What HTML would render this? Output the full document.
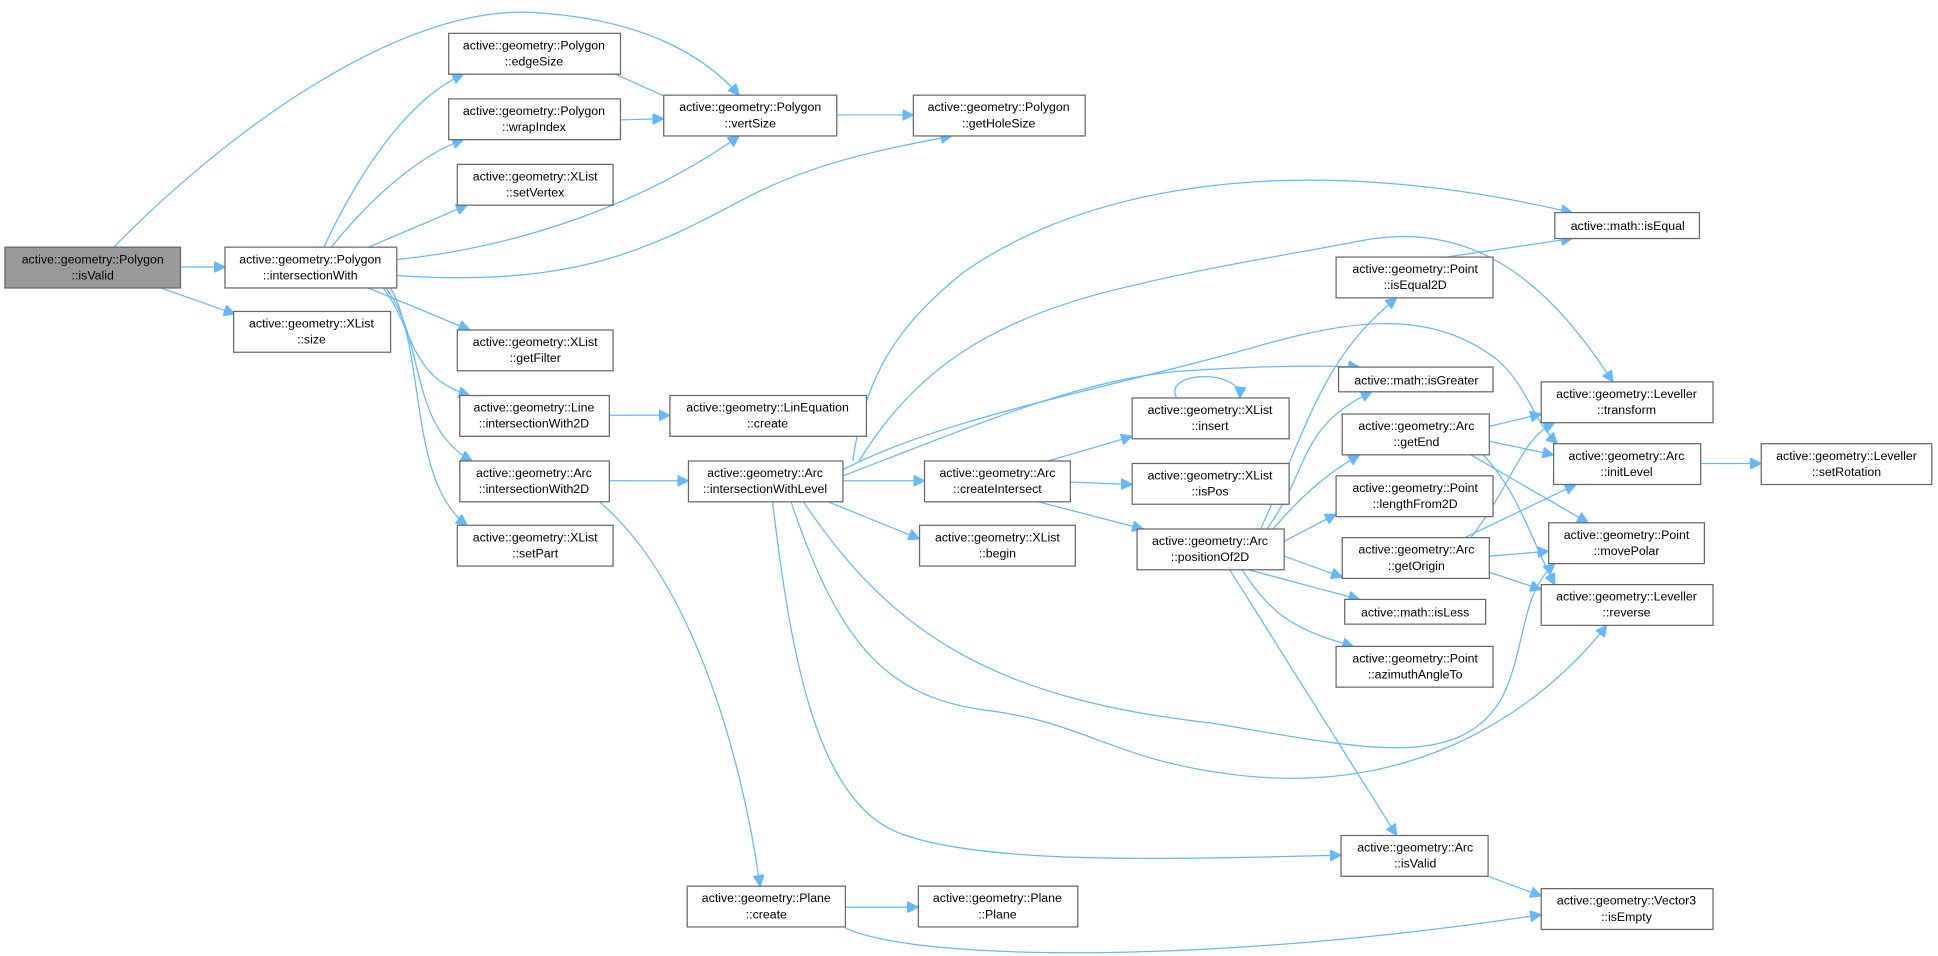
<!DOCTYPE html>
<html><head><meta charset="utf-8"><style>
html,body{margin:0;padding:0;background:#fff;}
svg{display:block;}
text{font-family:"Liberation Sans",Arial,sans-serif;font-size:10px;fill:#000;text-anchor:middle;}
.e{fill:none;stroke:#63b8ff;stroke-width:1;}
.n{fill:#fff;stroke:#666;stroke-width:1;}
</style></head><body>
<svg width="1938" height="956" viewBox="0 0 1568 773.5" xmlns="http://www.w3.org/2000/svg">
<defs><marker id="a" viewBox="0 0 10 10" refX="10" refY="5" markerWidth="9" markerHeight="9" markerUnits="userSpaceOnUse" orient="auto"><path d="M0,0 L10,5 L0,10 z" fill="#63b8ff" stroke="#63b8ff"/></marker></defs>
<g marker-end="url(#a)">
<path class="e" d="M92,200 C180,110 320,5 430,10 C520,15 570,45 598,77"/>
<path class="e" d="M146,216 L182,216"/>
<path class="e" d="M130,233 L190,254"/>
<path class="e" d="M262,200 C290,140 330,80 375,60"/>
<path class="e" d="M268,200 C300,160 340,125 375,113"/>
<path class="e" d="M298,200 L378,166"/>
<path class="e" d="M321,210 C420,200 520,165 598,110"/>
<path class="e" d="M321,223 C460,232 520,205 600,162 C660,130 720,120 770,110"/>
<path class="e" d="M298,233 L380,267"/>
<path class="e" d="M310,233 C335,265 330,305 380,320"/>
<path class="e" d="M312,233 C345,275 330,345 382,373"/>
<path class="e" d="M316,233 C345,285 330,390 378,425"/>
<path class="e" d="M498,60 L558,87"/>
<path class="e" d="M502,97 L537,96"/>
<path class="e" d="M677,93 L739,93"/>
<path class="e" d="M493,336 L542,336"/>
<path class="e" d="M493,389 L557,389"/>
<path class="e" d="M485,406 C560,470 600,610 615,717"/>
<path class="e" d="M690,373 C700,300 730,260 780,220 C880,150 1050,120 1272,172"/>
<path class="e" d="M695,373 C740,300 800,260 900,235 C980,215 1050,205 1100,195 C1200,175 1260,240 1305,309"/>
<path class="e" d="M682,380 C760,340 870,320 1000,285 C1080,262 1150,245 1210,290 C1235,310 1240,340 1260,359"/>
<path class="e" d="M682,385 C800,340 880,305 960,300 C1040,295 1080,296 1100,297"/>
<path class="e" d="M682,389 L748,389"/>
<path class="e" d="M670,406 L744,436"/>
<path class="e" d="M650,406 C720,510 800,565 980,585 C1100,605 1180,625 1215,565 C1235,525 1230,480 1258,456"/>
<path class="e" d="M640,406 C680,525 720,565 800,575 C880,585 900,615 1000,627 C1150,645 1250,570 1300,506"/>
<path class="e" d="M625,406 C640,530 660,650 730,675 C800,700 950,695 1085,692"/>
<path class="e" d="M848,373 L916,353"/>
<path class="e" d="M866,390 L916,392"/>
<path class="e" d="M840,406 L925,428"/>
<path class="e" d="M952,322 C940,300 1005,298 1003,322"/>
<path class="e" d="M1020,428 C1060,340 1070,290 1130,241"/>
<path class="e" d="M1025,428 C1060,380 1050,345 1110,317"/>
<path class="e" d="M1030,428 C1050,405 1070,385 1100,368"/>
<path class="e" d="M1039,438 L1081,416"/>
<path class="e" d="M1039,450 L1086,467"/>
<path class="e" d="M1010,461 L1100,485"/>
<path class="e" d="M1005,461 C1030,500 1050,510 1095,523"/>
<path class="e" d="M995,461 L1130,676"/>
<path class="e" d="M1170,208 L1272,193"/>
<path class="e" d="M1205,345 L1247,335"/>
<path class="e" d="M1205,357 L1257,368"/>
<path class="e" d="M1190,368 L1285,423"/>
<path class="e" d="M1200,368 C1230,400 1240,440 1258,473"/>
<path class="e" d="M1185,435 L1275,392"/>
<path class="e" d="M1190,435 C1225,390 1230,355 1258,342"/>
<path class="e" d="M1205,450 L1253,446"/>
<path class="e" d="M1205,463 L1247,477"/>
<path class="e" d="M1376,375 L1425,375"/>
<path class="e" d="M1204,709 L1247,725"/>
<path class="e" d="M684,734 L743,734"/>
<path class="e" d="M684,751 C750,780 1000,778 1247,740"/>
</g>
<rect x="4" y="200" width="142" height="33" fill="#999" stroke="#666"/>
<text x="75" y="213">active::geometry::Polygon</text><text x="75" y="226">::isValid</text>
<rect class="n" x="182" y="200" width="139" height="33"/><text x="251" y="213">active::geometry::Polygon</text><text x="251" y="226">::intersectionWith</text>
<rect class="n" x="189" y="252" width="127" height="33"/><text x="252" y="265">active::geometry::XList</text><text x="252" y="278">::size</text>
<rect class="n" x="363" y="27" width="139" height="33"/><text x="432" y="40">active::geometry::Polygon</text><text x="432" y="53">::edgeSize</text>
<rect class="n" x="363" y="80" width="139" height="33"/><text x="432" y="93">active::geometry::Polygon</text><text x="432" y="106">::wrapIndex</text>
<rect class="n" x="370" y="133" width="126" height="33"/><text x="433" y="146">active::geometry::XList</text><text x="433" y="159">::setVertex</text>
<rect class="n" x="537" y="77" width="140" height="33"/><text x="607" y="90">active::geometry::Polygon</text><text x="607" y="103">::vertSize</text>
<rect class="n" x="739" y="77" width="139" height="33"/><text x="808" y="90">active::geometry::Polygon</text><text x="808" y="103">::getHoleSize</text>
<rect class="n" x="370" y="267" width="126" height="33"/><text x="433" y="280">active::geometry::XList</text><text x="433" y="293">::getFilter</text>
<rect class="n" x="372" y="320" width="121" height="33"/><text x="432" y="333">active::geometry::Line</text><text x="432" y="346">::intersectionWith2D</text>
<rect class="n" x="542" y="320" width="159" height="33"/><text x="621" y="333">active::geometry::LinEquation</text><text x="621" y="346">::create</text>
<rect class="n" x="372" y="373" width="121" height="33"/><text x="432" y="386">active::geometry::Arc</text><text x="432" y="399">::intersectionWith2D</text>
<rect class="n" x="370" y="425" width="126" height="33"/><text x="433" y="438">active::geometry::XList</text><text x="433" y="451">::setPart</text>
<rect class="n" x="557" y="373" width="125" height="33"/><text x="619" y="386">active::geometry::Arc</text><text x="619" y="399">::intersectionWithLevel</text>
<rect class="n" x="748" y="373" width="118" height="33"/><text x="807" y="386">active::geometry::Arc</text><text x="807" y="399">::createIntersect</text>
<rect class="n" x="744" y="425" width="126" height="33"/><text x="807" y="438">active::geometry::XList</text><text x="807" y="451">::begin</text>
<rect class="n" x="916" y="322" width="127" height="33"/><text x="979" y="335">active::geometry::XList</text><text x="979" y="348">::insert</text>
<rect class="n" x="916" y="375" width="127" height="33"/><text x="979" y="388">active::geometry::XList</text><text x="979" y="401">::isPos</text>
<rect class="n" x="920" y="428" width="119" height="33"/><text x="979" y="441">active::geometry::Arc</text><text x="979" y="454">::positionOf2D</text>
<rect class="n" x="1081" y="208" width="127" height="33"/><text x="1145" y="221">active::geometry::Point</text><text x="1145" y="234">::isEqual2D</text>
<rect class="n" x="1083" y="297" width="125" height="20"/><text x="1146" y="311">active::math::isGreater</text>
<rect class="n" x="1086" y="335" width="119" height="33"/><text x="1146" y="348">active::geometry::Arc</text><text x="1146" y="361">::getEnd</text>
<rect class="n" x="1081" y="385" width="127" height="33"/><text x="1145" y="398">active::geometry::Point</text><text x="1145" y="411">::lengthFrom2D</text>
<rect class="n" x="1086" y="435" width="119" height="33"/><text x="1146" y="448">active::geometry::Arc</text><text x="1146" y="461">::getOrigin</text>
<rect class="n" x="1088" y="485" width="114" height="20"/><text x="1145" y="499">active::math::isLess</text>
<rect class="n" x="1081" y="523" width="127" height="33"/><text x="1145" y="536">active::geometry::Point</text><text x="1145" y="549">::azimuthAngleTo</text>
<rect class="n" x="1085" y="676" width="119" height="33"/><text x="1145" y="689">active::geometry::Arc</text><text x="1145" y="702">::isValid</text>
<rect class="n" x="1258" y="172" width="117" height="21"/><text x="1317" y="186">active::math::isEqual</text>
<rect class="n" x="1247" y="309" width="139" height="33"/><text x="1316" y="322">active::geometry::Leveller</text><text x="1316" y="335">::transform</text>
<rect class="n" x="1257" y="359" width="119" height="33"/><text x="1316" y="372">active::geometry::Arc</text><text x="1316" y="385">::initLevel</text>
<rect class="n" x="1425" y="359" width="138" height="33"/><text x="1494" y="372">active::geometry::Leveller</text><text x="1494" y="385">::setRotation</text>
<rect class="n" x="1253" y="423" width="126" height="33"/><text x="1316" y="436">active::geometry::Point</text><text x="1316" y="449">::movePolar</text>
<rect class="n" x="1247" y="473" width="139" height="33"/><text x="1316" y="486">active::geometry::Leveller</text><text x="1316" y="499">::reverse</text>
<rect class="n" x="1247" y="719" width="139" height="33"/><text x="1316" y="732">active::geometry::Vector3</text><text x="1316" y="745">::isEmpty</text>
<rect class="n" x="556" y="717" width="128" height="33"/><text x="620" y="730">active::geometry::Plane</text><text x="620" y="743">::create</text>
<rect class="n" x="743" y="717" width="129" height="33"/><text x="807" y="730">active::geometry::Plane</text><text x="807" y="743">::Plane</text>
</svg>
</body></html>
